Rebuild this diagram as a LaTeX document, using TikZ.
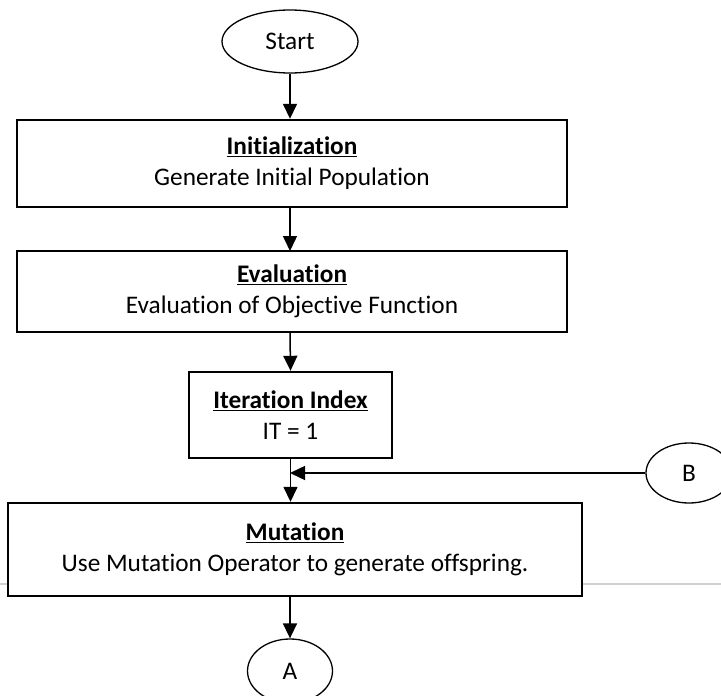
\documentclass[tikz,border=0pt]{standalone}
\usepackage{fontspec}
\setmainfont{Carlito}[Ligatures={NoCommon}]
\usetikzlibrary{shapes.geometric,arrows.meta}
\tikzset{
    stepbox/.style={draw,line width=2.4pt,fill=white,align=center,
        font=\fontsize{25.3}{31}\selectfont,inner sep=0pt},
    terminal/.style={draw,ellipse,line width=1.3pt,fill=white,inner sep=0pt,
        font=\fontsize{25.3}{29}\selectfont},
    flow/.style={line width=1.5pt,-{Triangle[width=14pt,length=15pt]}}
}
\newcommand{\boxtitle}[1]{\textbf{\underline{#1}}}
\begin{document}
            \begin{tikzpicture}[x=1pt,y=-1pt]
                \useasboundingbox (0,0) rectangle (721,696);
                \draw[black!18,line width=1.5pt] (0,584) -- (721,584);
                \node[terminal,minimum width=136pt,minimum height=63pt] (start) at (290,41.5) {Start};
                \node[stepbox,minimum width=550pt,minimum height=87pt] (init) at (292,163.5)
                    {\boxtitle{Initialization}\\Generate Initial Population};
                \node[stepbox,minimum width=550pt,minimum height=81pt] (eval) at (292,291.5)
                    {\boxtitle{Evaluation}\\Evaluation of Objective Function};
                \node[stepbox,minimum width=203pt,minimum height=86pt] (iter) at (290.5,415)
                    {\boxtitle{Iteration Index}\\IT = 1};
                \node[stepbox,minimum width=574pt,minimum height=93pt] (mut) at (295,549.5)
                    {\boxtitle{Mutation}\\Use Mutation Operator to generate offspring.};
                \node[terminal,minimum width=86pt,minimum height=60pt] (b) at (689,473) {B};
                \node[terminal,minimum width=85pt,minimum height=64pt] (a) at (290,671) {A};
                \coordinate (join) at (290,473);
                \draw[flow] (start.south) -- (start.south |- init.north);
                \draw[flow] (290,207) -- (290,251);
                \draw[flow] (290,332) -- (iter.north);
                \draw[flow] (iter.south) -- (iter.south |- mut.north);
                \draw[flow] (b.west) -- (join);
                \draw[flow] (mut.south -| a.north) -- (a.north);
            \end{tikzpicture}
\end{document}
